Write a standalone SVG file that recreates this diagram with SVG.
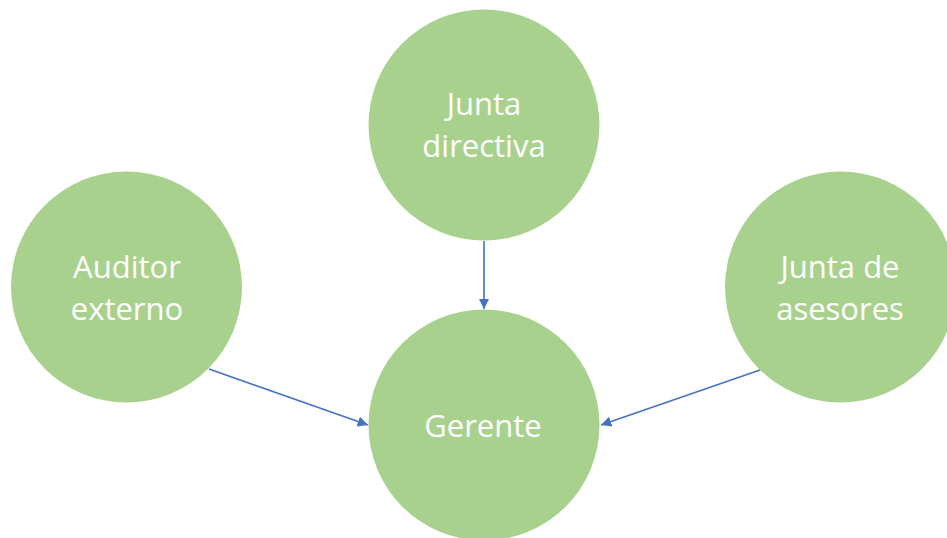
<svg xmlns="http://www.w3.org/2000/svg" width="947" height="538" viewBox="0 0 947 538">
  <style>
    .node { fill: #A9D18E; }
    .label { fill: #FFFFFF; font-family: "Open Sans", "Liberation Sans", Arial, sans-serif; font-size: 31px; text-anchor: middle; }
    .link { stroke: #4472C4; stroke-width: 1.6; fill: none; marker-end: url(#arrow); }
  </style>
  <defs>
    <marker id="arrow" viewBox="0 0 10 10" refX="10" refY="5" markerWidth="6.5" markerHeight="6.5" markerUnits="strokeWidth" orient="auto">
      <path d="M0,0 L10,5 L0,10 z" fill="#4472C4"/>
    </marker>
  </defs>
  <rect width="947" height="538" fill="#FFFFFF"/>

  <g id="junta-directiva">
    <circle class="node" cx="484" cy="125" r="115.5"/>
    <text class="label" x="484" y="115">Junta</text>
    <text class="label" x="484" y="157">directiva</text>
  </g>

  <g id="auditor-externo">
    <circle class="node" cx="126.5" cy="287" r="115.5"/>
    <text class="label" x="127" y="278">Auditor</text>
    <text class="label" x="127" y="320">externo</text>
  </g>

  <g id="junta-asesores">
    <circle class="node" cx="840.5" cy="287" r="115.5"/>
    <text class="label" x="840" y="278">Junta de</text>
    <text class="label" x="840" y="320">asesores</text>
  </g>

  <g id="gerente">
    <circle class="node" cx="484" cy="425" r="115.5"/>
    <text class="label" x="483" y="437">Gerente</text>
  </g>

  <g id="connectors">
    <line class="link" x1="484" y1="241" x2="484" y2="309"/>
    <line class="link" x1="209" y1="369" x2="368" y2="425"/>
    <line class="link" x1="760" y1="370" x2="601" y2="425"/>
  </g>
</svg>
